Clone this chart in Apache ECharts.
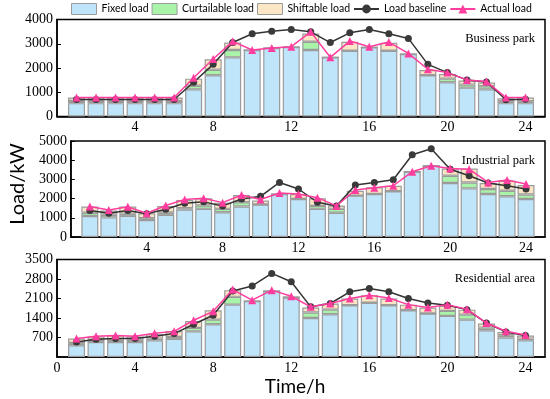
<!DOCTYPE html>
<html><head><meta charset="utf-8">
<script src="https://cdn.jsdelivr.net/npm/echarts@6/dist/echarts.min.js"></script>
<style>html,body{margin:0;padding:0;background:#fff}#c{width:550px;height:399px}</style>
</head><body><div id="c"></div>
<script>
// x axis slots 0..25 (hours 1..24 carry data)
const timeSlots = ['0','1','2','3','4','5','6','7','8','9','10','11','12','13','14','15','16','17','18','19','20','21','22','23','24','25'];
const panelNames = ['Business park','Industrial park','Residential area'];
const seriesNames = ['Fixed load','Curtailable load','Shiftable load','Load baseline','Actual load'];

// Business park (hours 1..24)
const bizFixed    = [550,550,550,550,550,550,1120,1700,2440,2740,2820,2860,2740,2440,2710,2850,2710,2575,1700,1410,1190,1120,550,550];
const bizCurt     = [90,90,90,90,90,90,150,230,300,0,0,0,340,0,0,0,0,0,0,150,125,130,80,80];
const bizShift    = [140,140,140,140,140,140,290,430,310,0,0,0,340,0,370,0,330,0,220,190,165,150,120,150];
const bizBaseline = [700,700,700,700,700,700,1410,2150,3050,3410,3520,3590,3490,3050,3450,3590,3410,3220,2150,1810,1510,1420,690,710];
const bizActual   = [780,780,780,780,780,780,1600,2370,3100,2740,2820,2880,3490,2440,3110,2880,3070,2600,1950,1810,1510,1440,780,780];

// Industrial park
const indFixed    = [1090,1020,1100,880,1155,1430,1465,1290,1590,1690,2240,1980,1465,1260,2155,2240,2380,3400,3710,2810,2530,2240,2120,1980];
const indCurt     = [170,140,120,100,125,70,175,175,220,0,0,0,155,205,0,0,0,0,0,380,310,260,290,230];
const indShift    = [330,220,370,260,340,430,380,315,380,210,0,260,400,175,255,350,290,0,0,380,730,310,520,500];
const indBaseline = [1380,1240,1380,1210,1450,1760,1830,1620,1980,2120,2840,2500,1810,1620,2710,2840,2980,4280,4600,3530,3190,2810,2670,2500];
const indActual   = [1590,1410,1570,1240,1640,1950,2020,1790,2190,1950,2290,2240,2050,1620,2450,2570,2670,3400,3710,3570,3530,2840,2970,2760];

// Residential area
const resFixed    = [420,540,540,540,600,650,920,1175,1880,2010,2370,2130,1400,1535,1860,1950,1860,1680,1560,1475,1340,960,695,600];
const resCurt     = [80,80,80,80,60,70,125,165,280,0,0,0,200,165,0,0,0,0,0,180,180,95,85,60];
const resShift    = [160,120,160,120,155,215,250,340,240,0,0,50,175,220,240,270,240,200,215,180,180,145,120,110];
const resBaseline = [540,635,660,660,745,840,1175,1500,2370,2550,3000,2700,1800,1920,2340,2460,2340,2100,1940,1860,1700,1220,900,770];
const resActual   = [660,745,770,745,850,920,1320,1640,2420,2040,2400,2180,1800,1920,2100,2220,2120,1880,1775,1880,1715,1220,925,790];

const yMax = [4000, 5000, 3500];
const yInterval = [1000, 1000, 700];

const panels = [
  [bizFixed,bizCurt,bizShift,bizBaseline,bizActual],
  [indFixed,indCurt,indShift,indBaseline,indActual],
  [resFixed,resCurt,resShift,resBaseline,resActual]
];

const colors = ['#bfe5fb','#a9f4a9','#fbe6c5','#333333','#ff3d9e'];
const gridPos = [{top:19.5,height:97},{top:141,height:96},{top:259.5,height:97.5}];
const serif = 'Liberation Serif';
const sans = 'Lato';
const pad = arr => ['-'].concat(arr, ['-']);

const grids = [], xAxes = [], yAxes = [], series = [], titles = [];
const titleTops = [27, 149, 267];
panels.forEach((p, i) => {
  grids.push({left:57, right:5, top:gridPos[i].top, height:gridPos[i].height,
    show:true, borderColor:'#000', borderWidth:1.5, backgroundColor:'transparent'});
  xAxes.push({type:'category', gridIndex:i, data:timeSlots, boundaryGap:false,
    axisLine:{lineStyle:{color:'#000', width:1.5}},
    axisTick:{inside:true, length:4, lineStyle:{color:'#000'},
      interval:(idx) => idx % 4 === 0 && idx > 0 && idx < 25},
    splitLine:{show:false},
    axisLabel:{interval:(idx) => idx % 4 === 0 && idx < 25 && (i === 2 || idx > 0),
      color:'#000', fontFamily:serif, fontSize:14, margin:4},
    name: i===2 ? 'Time/h' : '', nameLocation:'middle', nameGap:20,
    nameTextStyle:{fontFamily:sans, fontSize:19, color:'#000', padding:[0,12,0,0]}
  });
  yAxes.push({type:'value', gridIndex:i, min:0, max:yMax[i], interval:yInterval[i],
    axisLine:{show:true, lineStyle:{color:'#000', width:1.5}},
    axisTick:{show:true, inside:true, length:4, lineStyle:{color:'#000'}},
    splitLine:{show:false},
    axisLabel:{showMinLabel: i!==2, color:'#000', fontFamily:serif, fontSize:14, margin:4,
      formatter:(v) => String(v)},
    name: i===1 ? 'Load/kW' : '', nameLocation:'middle', nameGap:36,
    nameTextStyle:{fontFamily:sans, fontSize:20, color:'#000', padding:[0,0,0,10]}
  });
  titles.push({text:panelNames[i], right:10, top:titleTops[i],
    textStyle:{fontFamily:serif, fontSize:12.5, fontWeight:'normal', color:'#000'}});
  for (let k = 0; k < 3; k++) {
    series.push({name:seriesNames[k], type:'bar', xAxisIndex:i, yAxisIndex:i, stack:'s'+i,
      barWidth:17, data:pad(p[k]),
      itemStyle:{color:colors[k], borderColor:'#9b9b9b', borderWidth:1.2}});
  }
  series.push({name:seriesNames[3], type:'line', xAxisIndex:i, yAxisIndex:i,
    data:pad(p[3]), symbol:'circle', symbolSize:7,
    lineStyle:{color:'#333', width:1.5}, itemStyle:{color:'#3a3a3a'}, z:5});
  series.push({name:seriesNames[4], type:'line', xAxisIndex:i, yAxisIndex:i,
    data:pad(p[4]), symbol:'triangle', symbolSize:8,
    lineStyle:{color:colors[4], width:1.5}, itemStyle:{color:colors[4]}, z:6});
});

const chart = echarts.init(document.getElementById('c'), null, {renderer:'canvas'});
chart.setOption({
  animation:false,
  textStyle:{fontFamily:serif},
  title: titles,
  legend:{left:71, top:3, padding:0, width:520, itemWidth:25, itemHeight:11, itemGap:3,
    data:[
      {name:'Fixed load', icon:'rect', itemStyle:{borderColor:'#9b9b9b', borderWidth:1}},
      {name:'Curtailable load', icon:'rect', itemStyle:{borderColor:'#9b9b9b', borderWidth:1}},
      {name:'Shiftable load', icon:'rect', itemStyle:{borderColor:'#9b9b9b', borderWidth:1}},
      {name:'Load baseline'},
      {name:'Actual load'}
    ],
    textStyle:{fontFamily:sans, fontSize:10.5, color:'#000'}},
  grid: grids, xAxis: xAxes, yAxis: yAxes, series: series
});
</script></body></html>
